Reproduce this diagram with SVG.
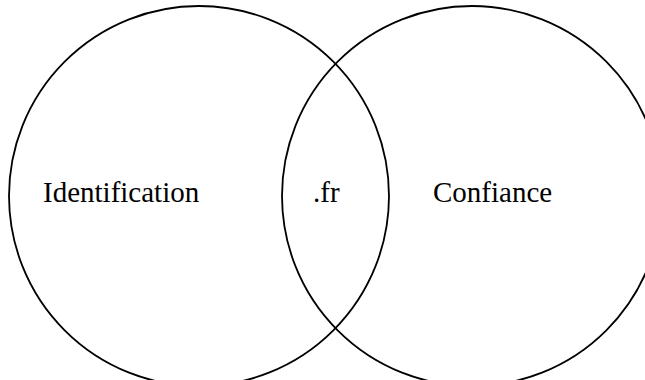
<svg xmlns="http://www.w3.org/2000/svg" width="645" height="380" viewBox="0 0 645 380">
<style>
.c{fill:none;stroke:#000;stroke-width:1.8}
.t{font-family:"Liberation Serif","Times New Roman",serif;font-size:29px;fill:#000}
</style>
<rect width="645" height="380" fill="#fff"/>
<g id="identification">
<circle class="c" cx="199" cy="196" r="190"/>
<text class="t" x="43" y="202">Identification</text>
</g>
<g id="confiance">
<circle class="c" cx="472" cy="196" r="190"/>
<text class="t" x="433" y="202">Confiance</text>
</g>
<g id="fr">
<text class="t" x="313" y="202">.fr</text>
</g>
<g id="connectors"/>
</svg>
